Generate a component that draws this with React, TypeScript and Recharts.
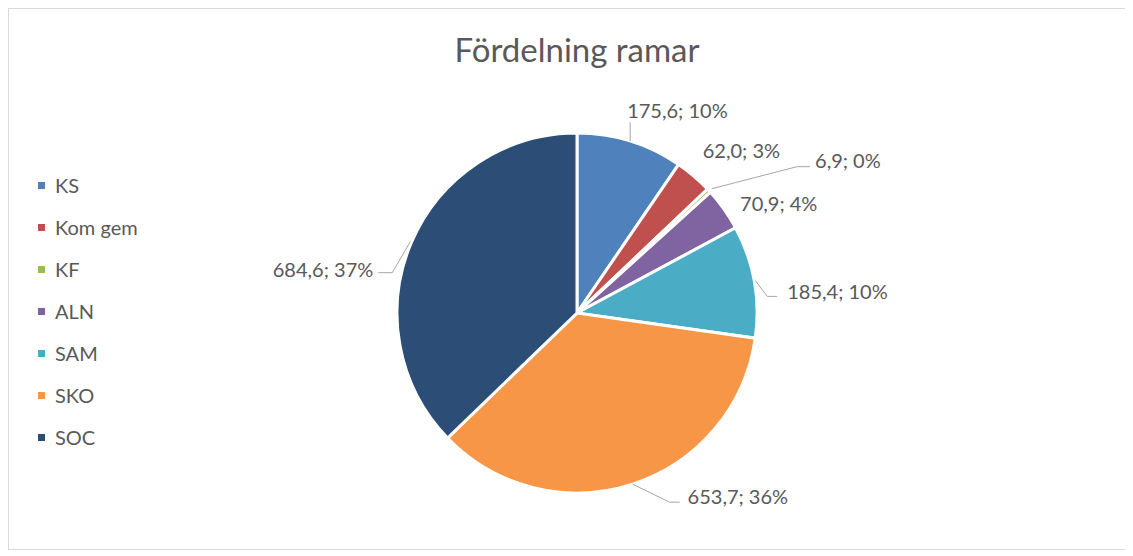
import { PieChart, Pie, Cell } from "recharts";

const categories = ["KS", "Kom gem", "KF", "ALN", "SAM", "SKO", "SOC"];
const ramar = [175.6, 62.0, 6.9, 70.9, 185.4, 653.7, 684.6];
const colors = ["#4F81BD", "#C0504D", "#9BBB59", "#8064A2", "#4BACC6", "#F79646", "#2C4D75"];

// label placement relative to the slice's outer edge (Excel-ish)
const labelLayout = [
  { line: [[0, 0], [0, -19]], text: [-3, -31], anchor: "start" },
  { line: [], text: [9, -26], anchor: "start" },
  { line: [[3, -2], [88, -24], [101, -24]], text: [106, -31], anchor: "start" },
  { line: [], text: [16, -6], anchor: "start" },
  { line: [[1, -1], [13, 15], [23, 15]], text: [33, 10], anchor: "start" },
  { line: [[0, 0], [37, 18], [47, 18]], text: [55, 12], anchor: "start" },
  { line: [[-1, -1], [-19, 30], [-33, 30]], text: [-38, 26], anchor: "end" },
];

const data = categories.map((name, i) => ({ name, value: ramar[i] }));

const RADIAN = Math.PI / 180;
const FONT = "Lato, 'Open Sans', sans-serif";

function renderLabel(props: any) {
  const { cx, cy, midAngle, outerRadius, value, percent, index } = props;
  const ax = cx + outerRadius * Math.cos(-midAngle * RADIAN);
  const ay = cy + outerRadius * Math.sin(-midAngle * RADIAN);
  const layout = labelLayout[index];
  const text = `${value.toFixed(1).replace(".", ",")}; ${Math.round(percent * 100)}%`;
  const pts = layout.line.map(([dx, dy]) => `${ax + dx},${ay + dy}`).join(" ");
  return (
    <g key={`lbl-${index}`}>
      {layout.line.length > 0 && (
        <polyline points={pts} fill="none" stroke="#a6a6a6" strokeWidth={1} />
      )}
      <text
        x={ax + layout.text[0]}
        y={ay + layout.text[1]}
        textAnchor={layout.anchor as any}
        dominantBaseline="central"
        fill="#595959"
        fontSize={20}
        fontFamily={FONT}
      >
        {text}
      </text>
    </g>
  );
}

function ChartLegend() {
  return (
    <div
      style={{
        position: "absolute",
        left: 30,
        top: 156,
        fontFamily: FONT,
        fontSize: 20,
        color: "#595959",
      }}
    >
      {categories.map((name, i) => (
        <div key={name} style={{ height: 42, display: "flex", alignItems: "center" }}>
          <span
            style={{
              display: "inline-block",
              width: 7,
              height: 7,
              background: colors[i],
              marginRight: 10,
            }}
          />
          <span>{name}</span>
        </div>
      ))}
    </div>
  );
}

export default function App() {
  return (
    <div style={{ position: "relative", width: 1125, height: 542, overflow: "hidden" }}>
      <div
        style={{
          position: "absolute",
          left: 0,
          top: 0,
          width: 1300,
          height: 540,
          borderTop: "1px solid #d9d9d9",
          borderLeft: "1px solid #d9d9d9",
          borderBottom: "1px solid #d9d9d9",
        }}
      />
      <div
        style={{
          position: "absolute",
          left: 269,
          top: 21,
          width: 600,
          textAlign: "center",
          fontFamily: FONT,
          fontSize: 33,
          color: "#595959",
        }}
      >
        Fördelning ramar
      </div>
      <div style={{ position: "absolute", left: 0, top: 0 }}>
        <PieChart width={1120} height={542}>
          <Pie
            data={data}
            dataKey="value"
            nameKey="name"
            cx={564}
            cy={300}
            outerRadius={180}
            startAngle={90}
            endAngle={-270}
            stroke="#ffffff"
            strokeWidth={3}
            label={renderLabel}
            labelLine={false}
            isAnimationActive={false}
          >
            {data.map((d, i) => (
              <Cell key={d.name} fill={colors[i]} />
            ))}
          </Pie>
        </PieChart>
      </div>
      <ChartLegend />
    </div>
  );
}
